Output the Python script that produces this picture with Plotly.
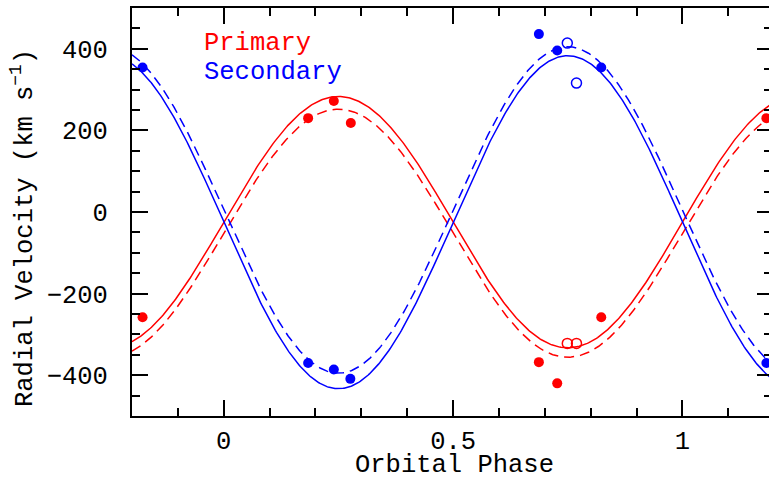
import numpy as np
import plotly.graph_objects as go

# ---- data ----
# fitted orbit parameters (systemic velocity, semi-amplitudes), km/s
gamma_solid = -25.0
K1_solid = 308.0
K2_solid = 408.0
gamma1_dash = -52.0
K1_dash = 304.0
gamma2_dash = 5.0
K2_dash = 400.0

# primary (red) measurements
prim_phase = [-0.177, 0.184, 0.240, 0.277, 0.687, 0.727, 0.823, 1.183]
prim_rv = [-258, 230, 272, 218, -368, -420, -258, 230]
prim_open_phase = [0.749, 0.769]
prim_open_rv = [-322, -322]

# secondary (blue) measurements
sec_phase = [-0.177, 0.184, 0.240, 0.276, 0.687, 0.727, 0.823, 1.183]
sec_rv = [354, -370, -386, -409, 436, 396, 354, -370]
sec_open_phase = [0.749, 0.769]
sec_open_rv = [414, 316]

x_ticks = [0, 0.5, 1]
x_ticklabels = ["0", "0.5", "1"]
y_ticks = [-400, -200, 0, 200, 400]
y_ticklabels = ["\u2212400", "\u2212200", "0", "200", "400"]

RED = "#ff0000"
BLUE = "#0000ff"
FONT = "Liberation Mono"
FS = 25.5

ph = np.linspace(-0.2, 1.2, 561)
s = np.sin(2 * np.pi * ph)

fig = go.Figure()
fig.add_trace(go.Scatter(x=ph, y=gamma_solid + K1_solid * s, mode="lines",
                         line=dict(color=RED, width=1.5), showlegend=False))
fig.add_trace(go.Scatter(x=ph, y=gamma1_dash + K1_dash * s, mode="lines",
                         line=dict(color=RED, width=1.5, dash="10px,6px"), showlegend=False))
fig.add_trace(go.Scatter(x=ph, y=gamma_solid - K2_solid * s, mode="lines",
                         line=dict(color=BLUE, width=1.5), showlegend=False))
fig.add_trace(go.Scatter(x=ph, y=gamma2_dash - K2_dash * s, mode="lines",
                         line=dict(color=BLUE, width=1.5, dash="10px,6px"), showlegend=False))

fig.add_trace(go.Scatter(x=prim_phase, y=prim_rv, mode="markers",
                         marker=dict(color=RED, size=10, line=dict(width=0)), showlegend=False))
fig.add_trace(go.Scatter(x=prim_open_phase, y=prim_open_rv, mode="markers",
                         marker=dict(symbol="circle-open", color=RED, size=10, line=dict(width=1.5)),
                         showlegend=False))
fig.add_trace(go.Scatter(x=sec_phase, y=sec_rv, mode="markers",
                         marker=dict(color=BLUE, size=10, line=dict(width=0)), showlegend=False))
fig.add_trace(go.Scatter(x=sec_open_phase, y=sec_open_rv, mode="markers",
                         marker=dict(symbol="circle-open", color=BLUE, size=10, line=dict(width=1.5)),
                         showlegend=False))
# dummy trace to register the right-hand tick axis
fig.add_trace(go.Scatter(x=[None], y=[None], yaxis="y2", showlegend=False, hoverinfo="skip"))

fig.update_layout(
    width=769, height=485,
    margin=dict(l=132, r=0, t=8, b=69),
    paper_bgcolor="white", plot_bgcolor="white",
    font=dict(family=FONT, size=FS, color="black"),
    xaxis=dict(
        range=[-0.2, 1.1887], showgrid=False, zeroline=False, automargin=False,
        showline=True, linecolor="black", linewidth=2, mirror="ticks",
        ticks="inside", ticklen=16, tickwidth=1.5, tickcolor="black",
        tickvals=x_ticks, ticktext=x_ticklabels,
        minor=dict(dtick=0.1, tick0=0, ticks="inside", ticklen=8, tickwidth=1.5, tickcolor="black"),
        tickfont=dict(family=FONT, size=FS), ticklabelstandoff=0,
    ),
    yaxis=dict(
        range=[-500, 500], showgrid=False, zeroline=False, automargin=False,
        showline=True, linecolor="black", linewidth=2,
        ticks="inside", ticklen=16, tickwidth=1.5, tickcolor="black",
        tickvals=y_ticks, ticktext=y_ticklabels,
        minor=dict(dtick=50, tick0=0, ticks="inside", ticklen=8, tickwidth=1.5, tickcolor="black"),
        tickfont=dict(family=FONT, size=FS), ticklabelstandoff=17,
    ),
    yaxis2=dict(
        overlaying="y", side="right", range=[-500, 500], showgrid=False, zeroline=False,
        showline=False, showticklabels=False, automargin=False,
        ticks="inside", ticklen=12, tickwidth=1.5, tickcolor="black",
        tickvals=y_ticks,
        minor=dict(dtick=50, tick0=0, ticks="inside", ticklen=5, tickwidth=1.5, tickcolor="black"),
    ),
    annotations=[
        dict(text="Orbital Phase", xref="paper", yref="paper", x=0.507, y=0,
             xanchor="center", yanchor="middle", yshift=-49, showarrow=False,
             font=dict(family=FONT, size=FS, color="black")),
        dict(text="Radial Velocity (km s<sup>\u22121</sup>)", xref="paper", yref="paper",
             x=0, y=0.5, xanchor="center", yanchor="middle", xshift=-109, yshift=-16,
             textangle=-90, showarrow=False, font=dict(family=FONT, size=FS, color="black")),
        dict(text="Primary", xref="paper", yref="paper", x=(202 - 132) / 637, y=1,
             xanchor="left", yanchor="middle", yshift=-35, showarrow=False,
             font=dict(family=FONT, size=FS, color=RED)),
        dict(text="Secondary", xref="paper", yref="paper", x=(202 - 132) / 637, y=1,
             xanchor="left", yanchor="middle", yshift=-64, showarrow=False,
             font=dict(family=FONT, size=FS, color=BLUE)),
    ],
)

# remove the page's default body margin and scrollbars so the figure fills the window exactly
fig.write_html(
    "out.html",
    config={"displayModeBar": False},
    post_script="document.body.style.margin='0';"
                "document.body.style.overflow='hidden';"
                "document.documentElement.style.overflow='hidden';",
)
